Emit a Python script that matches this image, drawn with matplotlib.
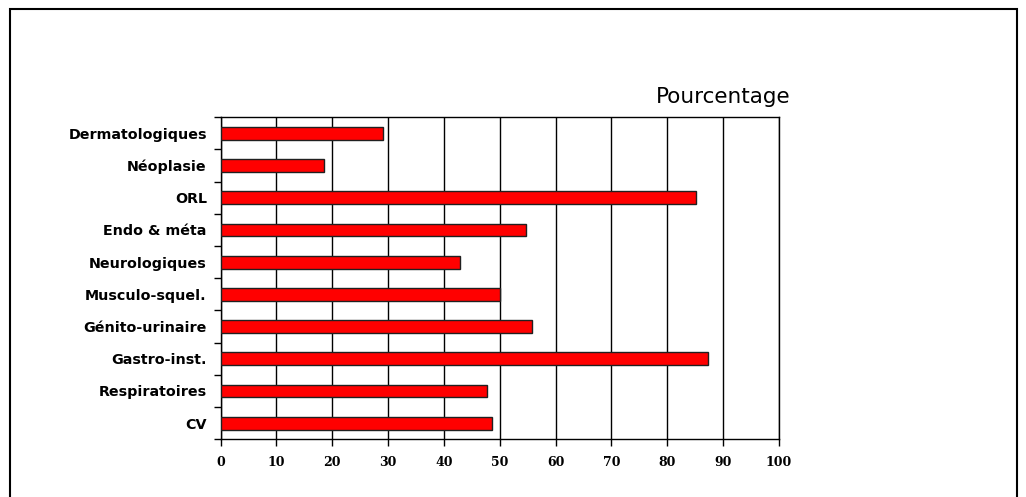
import matplotlib.pyplot as plt
from matplotlib.patches import Rectangle
import numpy as np

categories = ["CV", "Respiratoires", "Gastro-inst.", "Génito-urinaire", "Musculo-squel.",
              "Neurologiques", "Endo & méta", "ORL", "Néoplasie", "Dermatologiques"]
pourcentages = [48.7, 47.7, 87.3, 55.8, 50.0, 42.9, 54.7, 85.2, 18.5, 29.0]
x_ticks = list(range(0, 101, 10))

fig = plt.figure(figsize=(10.26, 4.97), dpi=100)
ax = fig.add_axes([0.2151, 0.1161, 0.5439, 0.648])

y = np.arange(len(categories))
ax.barh(y, pourcentages, height=0.4, color="#ff0000", edgecolor="#202020", linewidth=1, zorder=3)

ax.set_xlim(0, 100)
ax.set_ylim(-0.5, len(categories) - 0.5)
ax.set_xticks(x_ticks)
ax.set_xticklabels([str(v) for v in x_ticks], family="DejaVu Serif", fontweight="bold", fontsize=9)
ax.set_yticks(y)
ax.set_yticklabels(categories, family="DejaVu Sans", fontweight="bold", fontsize=10.3)
ax.set_yticks(np.arange(-0.5, len(categories), 1), minor=True)

ax.tick_params(axis="y", which="major", length=0, pad=10)
ax.tick_params(axis="y", which="minor", length=5, width=1, direction="out")
ax.tick_params(axis="x", length=5, width=1, direction="out", pad=7)

ax.grid(axis="x", color="black", linewidth=1, zorder=0)
for s in ax.spines.values():
    s.set_linewidth(1)
    s.set_color("black")

fig.text(0.77, 0.805, "Pourcentage", family="DejaVu Sans", fontsize=15.5, ha="right", va="center")

# cadre autour du graphique
cadre = Rectangle((0.0098, -0.1), 0.9819, 1.082, transform=fig.transFigure,
                  fill=False, edgecolor="black", linewidth=1.5, clip_on=False)
fig.patches.append(cadre)

fig.savefig("out.png", dpi=100)
